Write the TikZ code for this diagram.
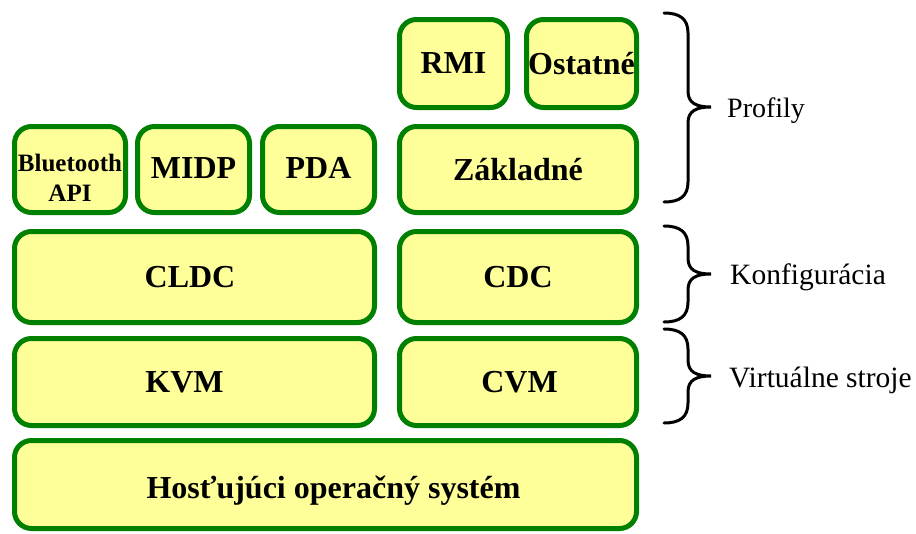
\documentclass[tikz,border=0pt]{standalone}
\usepackage{fontspec}
\setmainfont{Liberation Serif}
\begin{document}
\begin{tikzpicture}[x=1pt,y=-1pt,
  layer/.style={draw=green!50!black, line width=5pt, fill=yellowfill,
    rounded corners=17pt, align=center, inner sep=0pt,
    font=\fontsize{32}{34}\selectfont\bfseries},
  caption/.style={inner sep=0pt, align=center, font=\fontsize{25}{30}\selectfont\bfseries},
  bracket/.style={draw=black, line width=3pt, line cap=round},
  sidelabel/.style={anchor=base west, inner sep=0pt, font=\fontsize{29.5}{31}\selectfont}]
\definecolor{yellowfill}{HTML}{FFFF99}
\useasboundingbox (0,0) rectangle (916,533);

% profiles
\node[layer, minimum width=108pt, minimum height=88pt] (rmi) at (453.5,63.5) {RMI};
\node[layer, minimum width=110pt, minimum height=88pt] (ost) at (581.5,63.5) {Ostatné};
\node[layer, minimum width=111pt, minimum height=86pt] (bt) at (70,169.5) {};
\node[caption] (btlabel) at ([yshift=-8pt]bt.center) {Bluetooth\\API};
\node[layer, minimum width=112pt, minimum height=86pt] (midp) at (193.5,169.5) {\raisebox{3pt}{MIDP}};
\node[layer, minimum width=112pt, minimum height=86pt] (pda) at (318.5,169.5) {\raisebox{3pt}{PDA}};
\node[layer, minimum width=237pt, minimum height=86pt] (zakl) at (518,169.5) {Základné};

% configurations
\node[layer, minimum width=360pt, minimum height=91pt] (cldc) at (194.5,277) {\hspace*{-9pt}CLDC};
\node[layer, minimum width=237pt, minimum height=91pt] (cdc) at (518,277) {CDC};

% virtual machines
\node[layer, minimum width=360pt, minimum height=87pt] (kvm) at (194.5,382) {\hspace*{-20pt}KVM};
\node[layer, minimum width=237pt, minimum height=87pt] (cvm) at (518,382) {\hspace*{3pt}CVM};

% host operating system
\node[layer, minimum width=622pt, minimum height=88pt] (host) at (325.5,484.5) {};
\node[inner sep=0pt, font=\fontsize{32}{34}\selectfont\bfseries] (hostlabel)
  at ([xshift=8pt,yshift=-6pt]host.center) {Hosťujúci operačný systém};

% braces: top, bottom, tip
\foreach \t/\b/\m in {13/202/107, 226/322/274, 329/423/376}{
  \draw[bracket] (664,\t) .. controls (680,\t) and (688,\t+6) .. (688,\t+20)
    -- (688,\m-16) .. controls (688,\m-4) and (696,\m) .. (711,\m)
    .. controls (696,\m) and (688,\m+4) .. (688,\m+16)
    -- (688,\b-20) .. controls (688,\b-6) and (680,\b) .. (664,\b);
}
\node[sidelabel, font=\fontsize{28}{30}\selectfont] (prof) at (727,117) {Profily};
\node[sidelabel] (konf) at (730,284) {Konfigurácia};
\node[sidelabel] (virt) at (729,387) {Virtuálne stroje};
\end{tikzpicture}
\end{document}
